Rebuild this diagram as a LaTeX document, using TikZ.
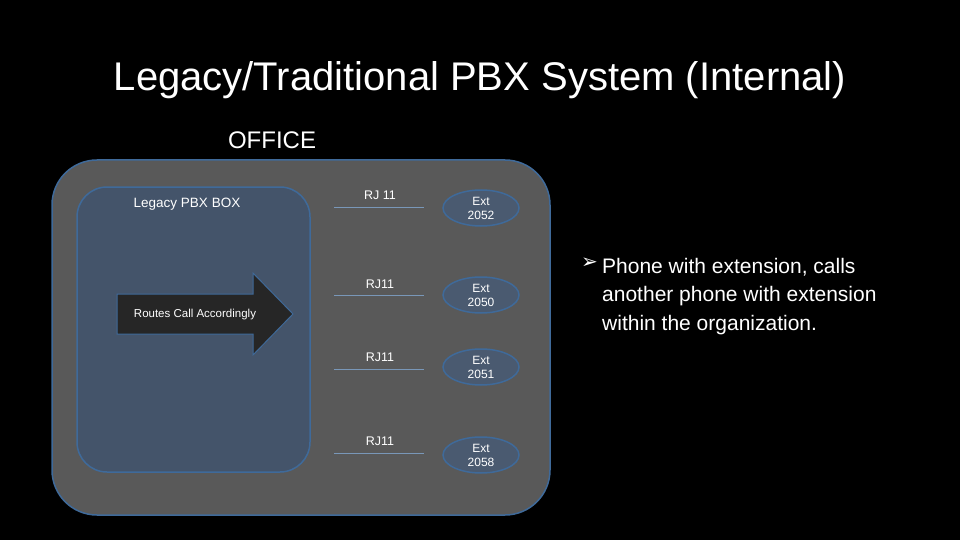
\documentclass[tikz,border=0pt]{standalone}
\usepackage{fontspec}
\setmainfont{Liberation Sans}
\newfontfamily\djv{DejaVu Sans}
\usetikzlibrary{shapes.geometric,shapes.arrows}
\definecolor{outerf}{HTML}{595959}
\definecolor{bord}{HTML}{3F6A9A}
\definecolor{innerf}{HTML}{44546A}
\definecolor{arrf}{HTML}{262626}
\definecolor{ellf}{HTML}{4A5A70}
\begin{document}
\begin{tikzpicture}[x=1pt,y=-1pt,
  txt/.style={text=white,inner sep=0pt},
  ext/.style={ellipse,draw=bord,line width=1.5pt,fill=ellf,minimum width=76pt,minimum height=36pt,inner sep=0pt,text=white,font=\fontsize{12}{14}\selectfont,align=center},
  rj/.style={draw=bord!70!white,line width=0.8pt},
  rjl/.style={txt,font=\fontsize{12.5}{14}\selectfont}]
\useasboundingbox[fill=black] (0,0) rectangle (960,540);
\node[txt,font=\fontsize{40}{46}\selectfont] (title) at (480,80) {Legacy/Traditional PBX System (Internal)};
\node[txt,font=\fontsize{24}{28}\selectfont] (office) at (272,140) {OFFICE};
\draw[draw=bord,line width=1.5pt,fill=outerf,rounded corners=45pt] (52,160) rectangle (550,515);
\draw[draw=bord,line width=1.5pt,fill=innerf,rounded corners=30pt] (77,187) rectangle (310,472);
\node[txt,font=\fontsize{13.5}{15}\selectfont] (box) at (187,204) {Legacy PBX BOX};
\draw[draw=bord,line width=1pt,fill=arrf] (117,294) -- (253,294) -- (253,273) -- (293,314) -- (253,355) -- (253,334) -- (117,334) -- cycle;
\node[txt,font=\fontsize{11.5}{13}\selectfont] (routes) at (195,315) {Routes Call Accordingly};
\foreach \y/\lab/\ly/\e [count=\i] in {207/RJ 11/195/2052, 295/RJ11/284/2050, 369/RJ11/357/2051, 453/RJ11/441/2058}{
  \coordinate (a\i) at (334,\y);
  \coordinate (b\i) at (424,\y);
  \draw[rj] (a\i) -- (b\i);
  \node[rjl] (l\i) at (380,\ly) {\lab};
}
\node[ext] (e1) at (481,208) {Ext\\2052};
\node[ext] (e2) at (481,295) {Ext\\2050};
\node[ext] (e3) at (481,367) {Ext\\2051};
\node[ext] (e4) at (481,455) {Ext\\2058};
\node[txt,anchor=north west,font=\fontsize{21}{28.5}\selectfont,align=left] (bul) at (602,258) {Phone with extension, calls\\another phone with extension\\within the organization.};
\node[txt,anchor=north east,font=\djv\fontsize{20}{22}\selectfont] (arr) at (598,258) {➢};
\end{tikzpicture}
\end{document}
